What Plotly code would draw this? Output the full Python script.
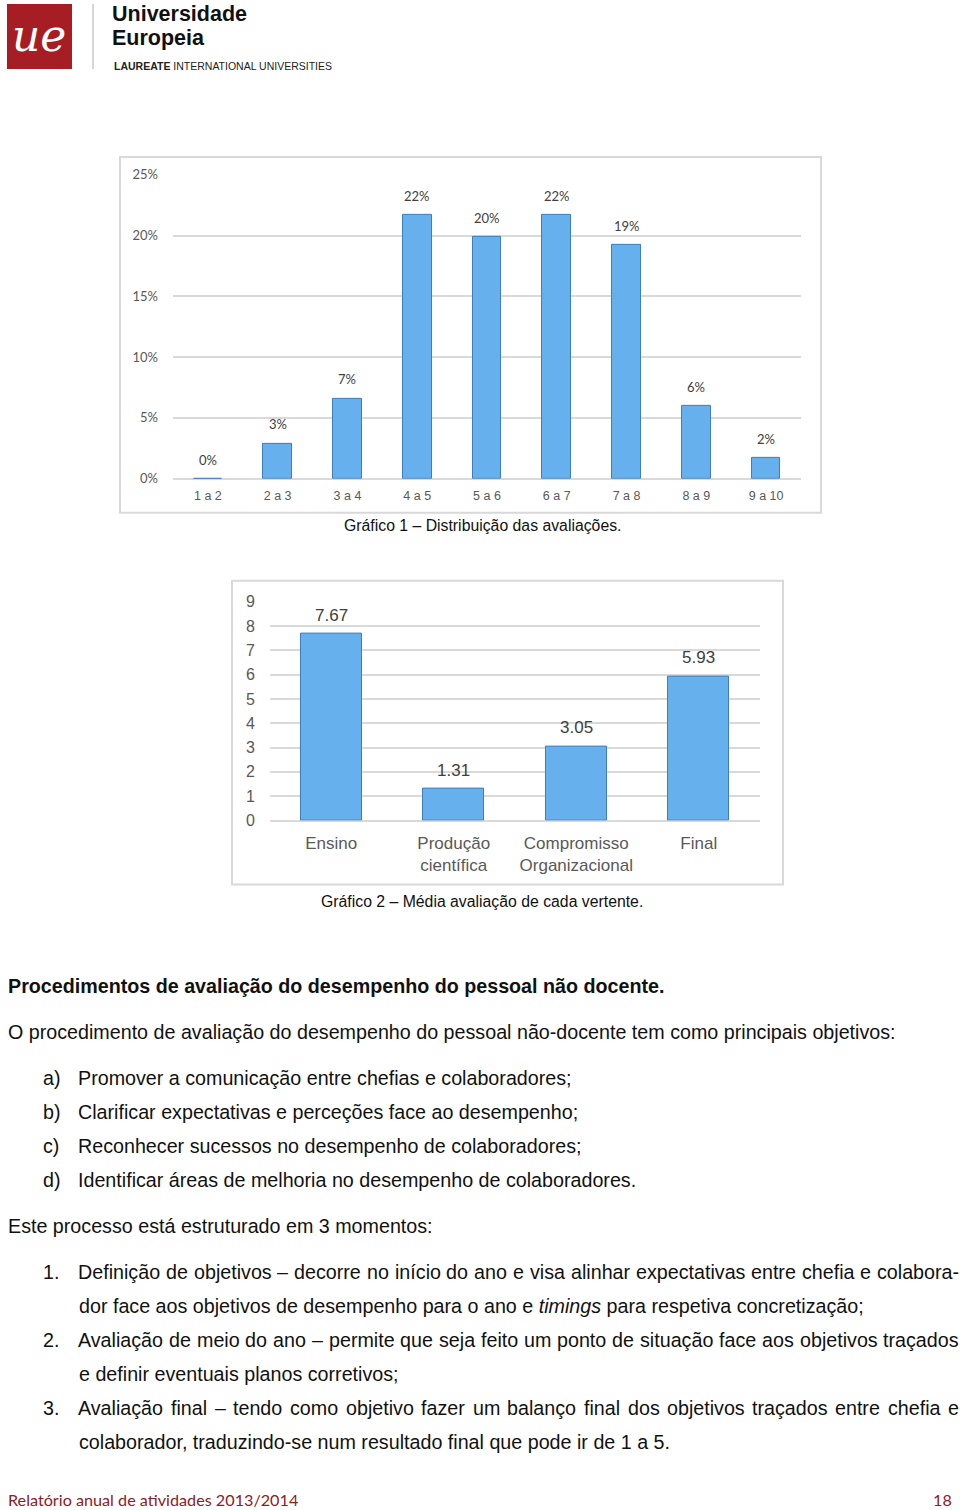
import plotly.graph_objects as go

# ---------------- data ----------------
dist_categories = ["1 a 2", "2 a 3", "3 a 4", "4 a 5", "5 a 6", "6 a 7", "7 a 8", "8 a 9", "9 a 10"]
dist_values = [0.0, 2.9, 6.6, 21.7, 19.9, 21.7, 19.2, 6.0, 1.7]
dist_ticks = [0, 5, 10, 15, 20, 25]
dist_ticktext = ["0%", "5%", "10%", "15%", "20%", "25%"]

mean_categories = ["Ensino", "Produção<br>científica", "Compromisso<br>Organizacional", "Final"]
mean_values = [7.67, 1.31, 3.05, 5.93]
mean_ticks = [0, 1, 2, 3, 4, 5, 6, 7, 8, 9]

caption1 = "Gráfico 1 – Distribuição das avaliações."
caption2 = "Gráfico 2 – Média avaliação de cada vertente."

W, H = 960, 1510

# the photographed page shows the figure offset/compressed vertically; compensate
Y_OFF, Y_SCALE = 8.04, 0.9893


def px(x):
    return x / W


def py(y):
    return 1 - ((y - Y_OFF) / Y_SCALE) / H


BAR_FILL = "#67B0EE"
BAR_EDGE = "#3E7EBE"
GRID = "#D9D9D9"
TICK = "#595959"
BODY = 19.7

# Arial / Liberation Sans advance widths (per 1000 em) used for justified lines
ARIAL = {" ": 278, "–": 556, "-": 333, ",": 278, ".": 278, ";": 278, ":": 278,
         "0": 556, "1": 556, "2": 556, "3": 556, "4": 556, "5": 556,
         "a": 556, "b": 556, "c": 500, "d": 556, "e": 556, "f": 278, "g": 556, "h": 556,
         "i": 222, "j": 222, "k": 500, "l": 222, "m": 833, "n": 556, "o": 556, "p": 556,
         "q": 556, "r": 333, "s": 500, "t": 278, "u": 556, "v": 500, "w": 722, "x": 500,
         "y": 500, "z": 500, "ç": 500, "ã": 556, "á": 556, "â": 556, "à": 556, "é": 556,
         "ê": 556, "í": 278, "ó": 556, "õ": 556, "ô": 556, "ú": 556,
         "A": 667, "D": 722, "E": 667, "O": 778, "P": 667, "R": 722}


def text_width(s, size):
    return sum(ARIAL.get(ch, 556) for ch in s) * size / 1000.0


fig = go.Figure()

fig.add_trace(go.Bar(
    x=dist_categories, y=dist_values, xaxis="x", yaxis="y",
    width=0.41, marker=dict(color=BAR_FILL, line=dict(color=BAR_EDGE, width=1)),
    hoverinfo="skip", showlegend=False,
))
fig.add_trace(go.Bar(
    x=mean_categories, y=mean_values, xaxis="x2", yaxis="y2",
    width=0.5, marker=dict(color=BAR_FILL, line=dict(color=BAR_EDGE, width=1)),
    hoverinfo="skip", showlegend=False,
))

annotations = []

# value labels, positioned from the data through the axes
for c, v in zip(dist_categories, dist_values):
    annotations.append(dict(
        x=c, y=v, xref="x", yref="y", text=f"{v:.0f}%", showarrow=False,
        yanchor="bottom", yshift=9, font=dict(family="Lato, Liberation Sans", size=13, color="#404040")))
for c, v in zip(mean_categories, mean_values):
    annotations.append(dict(
        x=c, y=v, xref="x2", yref="y2", text=f"{v:.2f}", showarrow=False,
        yanchor="bottom", yshift=7, font=dict(family="Liberation Sans, Arial", size=17, color="#404040")))


def txt(x, y, text, size=BODY, color="#111111", anchor="left", family="Liberation Sans, Arial", bold=False):
    if bold:
        text = f"<b>{text}</b>"
    annotations.append(dict(
        x=px(x), y=py(y), xref="paper", yref="paper", text=text, showarrow=False,
        xanchor=anchor, yanchor="middle", align=anchor if anchor != "center" else "center",
        font=dict(family=family, size=size, color=color)))


def justified(x0, x1, y, line, size=BODY):
    words = line.split(" ")
    widths = [text_width(w, size) for w in words]
    gap = (x1 - x0 - sum(widths)) / (len(words) - 1)
    x = x0
    for w, wd in zip(words, widths):
        txt(x, y, w, size=size)
        x += wd + gap


# header / logo texts
txt(39, 36, "<i>ue</i>", size=44, color="white", anchor="center", family="DejaVu Serif")
txt(110, 14, "Universidade", size=21.5, color="#111111", bold=True)
txt(110, 38, "Europeia", size=21.5, color="#111111", bold=True)
txt(112, 66, "<b>LAUREATE</b> INTERNATIONAL UNIVERSITIES", size=10.5, color="#222222")

# captions
txt(482, 526, caption1, size=15.8, anchor="center")
txt(482, 902, caption2, size=15.8, anchor="center")

# body text
txt(6, 987, "Procedimentos de avaliação do desempenho do pessoal não docente.", bold=True)
txt(6, 1033, "O procedimento de avaliação do desempenho do pessoal não-docente tem como principais objetivos:")
items = [
    ("a)", "Promover a comunicação entre chefias e colaboradores;"),
    ("b)", "Clarificar expectativas e perceções face ao desempenho;"),
    ("c)", "Reconhecer sucessos no desempenho de colaboradores;"),
    ("d)", "Identificar áreas de melhoria no desempenho de colaboradores."),
]
for i, (lbl, t) in enumerate(items):
    y = 1079 + 34 * i
    txt(41, y, lbl)
    txt(76, y, t)
txt(6, 1227, "Este processo está estruturado em 3 momentos:")

txt(41, 1273, "1.")
justified(76, 957, 1273, "Definição de objetivos – decorre no início do ano e visa alinhar expectativas entre chefia e colabora-")
txt(77, 1307, "dor face aos objetivos de desempenho para o ano e <i>timings</i> para respetiva concretização;")

txt(41, 1341, "2.")
justified(76, 957, 1341, "Avaliação de meio do ano – permite que seja feito um ponto de situação face aos objetivos traçados")
txt(77, 1375, "e definir eventuais planos corretivos;")

txt(41, 1409, "3.")
justified(76, 957, 1409, "Avaliação final – tendo como objetivo fazer um balanço final dos objetivos traçados entre chefia e")
txt(77, 1443, "colaborador, traduzindo-se num resultado final que pode ir de 1 a 5.")

# footer
txt(6, 1500, "Relatório anual de atividades 2013/2014", size=16.2, color="#8B2024", family="Lato, Liberation Sans")
txt(954, 1500, "18", size=16.2, color="#8B2024", anchor="right", family="Lato, Liberation Sans")

shapes = [
    # logo
    dict(type="rect", xref="paper", yref="paper", x0=px(7), x1=px(72), y0=py(69), y1=py(4),
         fillcolor="#A61D24", line=dict(width=0), layer="below"),
    dict(type="line", xref="paper", yref="paper", x0=px(93), x1=px(93), y0=py(69), y1=py(4),
         line=dict(color="#C8C8C8", width=1.5)),
    # chart borders
    dict(type="rect", xref="paper", yref="paper", x0=px(120), x1=px(821), y0=py(513), y1=py(157),
         line=dict(color=GRID, width=2), fillcolor="rgba(0,0,0,0)", layer="below"),
    dict(type="rect", xref="paper", yref="paper", x0=px(232), x1=px(783), y0=py(885), y1=py(581),
         line=dict(color=GRID, width=2), fillcolor="rgba(0,0,0,0)", layer="below"),
]

fig.update_layout(
    width=W, height=H,
    margin=dict(l=0, r=0, t=0, b=0),
    paper_bgcolor="white", plot_bgcolor="white",
    showlegend=False,
    bargap=0,
    annotations=annotations,
    shapes=shapes,
    xaxis=dict(domain=[px(173), px(801)], showgrid=False, showline=False, zeroline=False,
               ticks="", ticklabelstandoff=8, fixedrange=True,
               tickfont=dict(family="Liberation Sans, Arial", size=12.5, color=TICK)),
    yaxis=dict(domain=[py(479), py(175)], range=[0, 25], tickvals=dist_ticks, ticktext=dist_ticktext,
               showgrid=True, gridcolor=GRID, gridwidth=1.5,
               zeroline=True, zerolinecolor=GRID, zerolinewidth=1.5, showline=False,
               ticks="", ticklabelstandoff=14, fixedrange=True,
               tickfont=dict(family="Lato, Liberation Sans", size=13, color=TICK)),
    xaxis2=dict(domain=[px(270), px(760)], anchor="y2", showgrid=False, showline=False, zeroline=False,
                ticks="", ticklabelstandoff=10, fixedrange=True,
                tickfont=dict(family="Liberation Sans, Arial", size=17, color=TICK)),
    yaxis2=dict(domain=[py(821), py(602)], anchor="x2", range=[0, 9], tickvals=mean_ticks,
                showgrid=True, gridcolor=GRID, gridwidth=1.5,
                zeroline=True, zerolinecolor=GRID, zerolinewidth=1.5, showline=False,
                ticks="", ticklabelstandoff=14, fixedrange=True,
                tickfont=dict(family="Liberation Sans, Arial", size=16, color=TICK)),
)

fig.write_html("out.html")
